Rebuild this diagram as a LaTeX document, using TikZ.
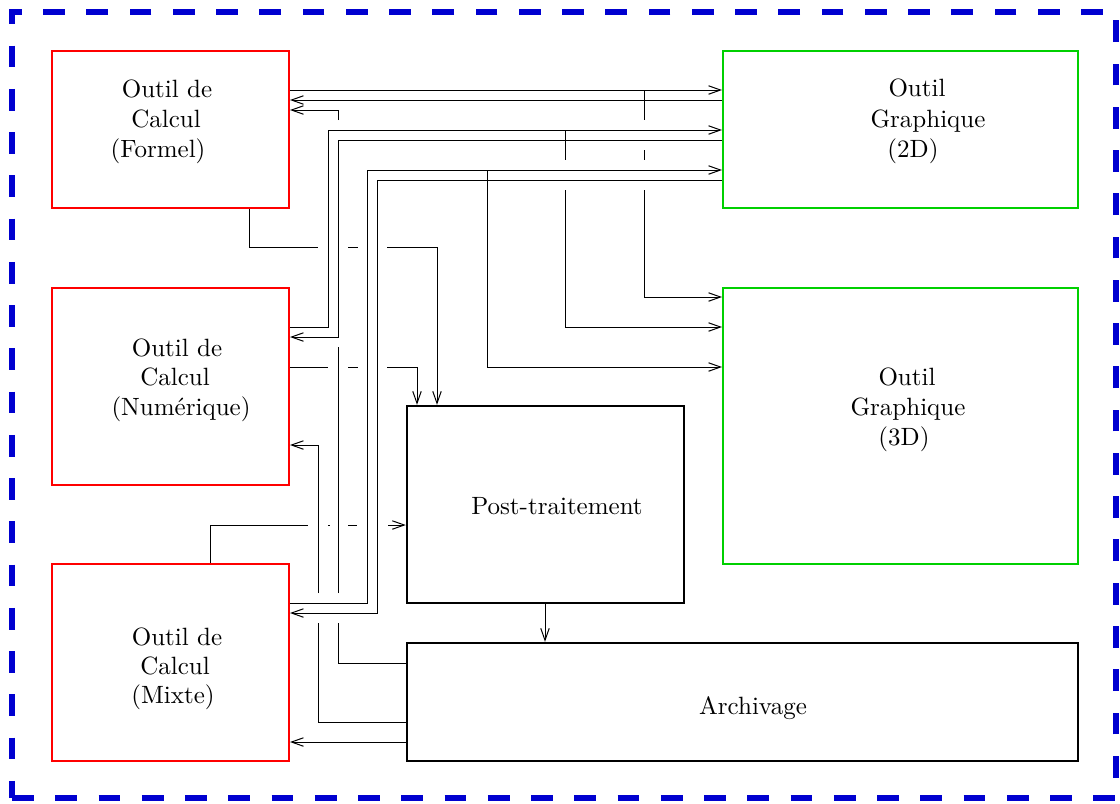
\documentclass[tikz,border=0pt]{standalone}
\usetikzlibrary{arrows.meta,fit}
\definecolor{xblue}{RGB}{0,0,208}
\definecolor{xgreen}{RGB}{0,208,0}
\definecolor{xred}{RGB}{255,0,0}
\begin{document}
\begin{tikzpicture}[x=0.4pt,y=-0.4pt,
  conn/.style={line width=0.4pt, draw=black},
  arr/.style={conn, -{Straight Barb[length=4.8pt,width=3.4pt]}},
  redbox/.style={draw=xred, line width=0.8pt, inner sep=0pt},
  greenbox/.style={draw=xgreen, line width=0.8pt, inner sep=0pt},
  blackbox/.style={draw=black, line width=1pt, inner sep=0pt},
  frame/.style={draw=xblue, line width=2.4pt, dash pattern=on 8.7pt off 8.6pt, inner sep=0pt},
  lbl/.style={anchor=base, inner sep=0pt, font=\fontsize{10}{12}\selectfont}]

\useasboundingbox (0,0) rectangle (1120,803);
\node[frame, fit={(12,12) (1116,798)}] (frm) {};

% boxes
\node[redbox, fit={(52,51) (289,208)}] (F) {};
\node[redbox, fit={(52,288) (289,485)}] (N) {};
\node[redbox, fit={(52,564) (289,761)}] (M) {};
\node[greenbox, fit={(723,51) (1078,208)}] (G2) {};
\node[greenbox, fit={(723,288) (1078,564)}] (G3) {};
\node[blackbox, fit={(407,406) (684,603)}] (P) {};
\node[blackbox, fit={(407,643) (1078,761)}] (A) {};

% labels
\node[lbl] (F1) at (167,97) {Outil de};
\node[lbl] (F2) at (166,127) {Calcul};
\node[lbl] (F3) at (158,157) {(Formel)};
\node[lbl] (N1) at (177,356) {Outil de};
\node[lbl] (N2) at (175,385) {Calcul};
\node[lbl] (N3) at (181,415) {(Numérique)};
\node[lbl] (M1) at (177,645) {Outil de};
\node[lbl] (M2) at (175,674) {Calcul};
\node[lbl] (M3) at (173,703) {(Mixte)};
\node[lbl] (G21) at (917,96) {Outil};
\node[lbl] (G22) at (928,127) {Graphique};
\node[lbl] (G23) at (913,157) {(2D)};
\node[lbl] (G31) at (907,385) {Outil};
\node[lbl] (G32) at (908,415) {Graphique};
\node[lbl] (G33) at (904,445) {(3D)};
\node[lbl] (P1) at (557,514) {Post-traitement};
\node[lbl] (A1) at (753,714) {Archivage};

% 1 F -> G2
\draw[arr] (F.east |- 0,90) -- (G2.west |- 0,90);
% 2 G2 -> F
\draw[arr] (G2.west |- 0,100) -- (F.east |- 0,100);
% 3 A -> F
\draw[conn] (A.west |- 0,663) -| (338,623);
\draw[conn] (338,593) -- (338,347);
\draw[arr] (338,120) |- (F.east |- 0,110);
% 4 N -> G2
\draw[arr] (N.east |- 0,327) -| (328,130) -- (G2.west |- 0,130);
% 5 G2 -> N
\draw[arr] (G2.west |- 0,140) -| (338,337) -- (N.east |- 0,337);
% 6 M -> G2
\draw[arr] (M.east |- 0,603) -| (367,170) -- (G2.west |- 0,170);
% 7 G2 -> M
\draw[arr] (G2.west |- 0,180) -| (377,613) -- (M.east |- 0,613);
% 8 F -> G3
\draw[conn] (644,90) -- (644,120);
\draw[conn] (644,150) -- (644,160);
\draw[arr] (644,190) |- (G3.west |- 0,297);
% 9 N -> G3
\draw[conn] (565,130) -- (565,160);
\draw[arr] (565,190) |- (G3.west |- 0,327);
% 10 M -> G3
\draw[arr] (487,170) |- (G3.west |- 0,367);
% 11 F -> P
\draw[conn] (F.south -| 249,0) |- (318,247);
\draw[conn] (348,247) -- (358,247);
\draw[arr] (387,247) -| (P.north -| 437,0);
% 12 N -> P
\draw[conn] (N.east |- 0,367) -- (328,367);
\draw[conn] (348,367) -- (358,367);
\draw[arr] (387,367) -| (P.north -| 417,0);
% 13 M -> P
\draw[conn] (M.north -| 210,0) |- (308,525);
\draw[conn] (328,525) -- (330,525);
\draw[conn] (348,525) -- (357,525);
\draw[arr] (388,525) -- (P.west |- 0,525);
% 14 A -> N
\draw[conn] (A.west |- 0,722) -| (318,623);
\draw[arr] (318,593) |- (N.east |- 0,445);
% 15 A -> M
\draw[arr] (A.west |- 0,742) -- (M.east |- 0,742);
% 16 P -> A
\draw[arr] (P.south -| 545,0) -- (A.north -| 545,0);
\end{tikzpicture}
\end{document}
